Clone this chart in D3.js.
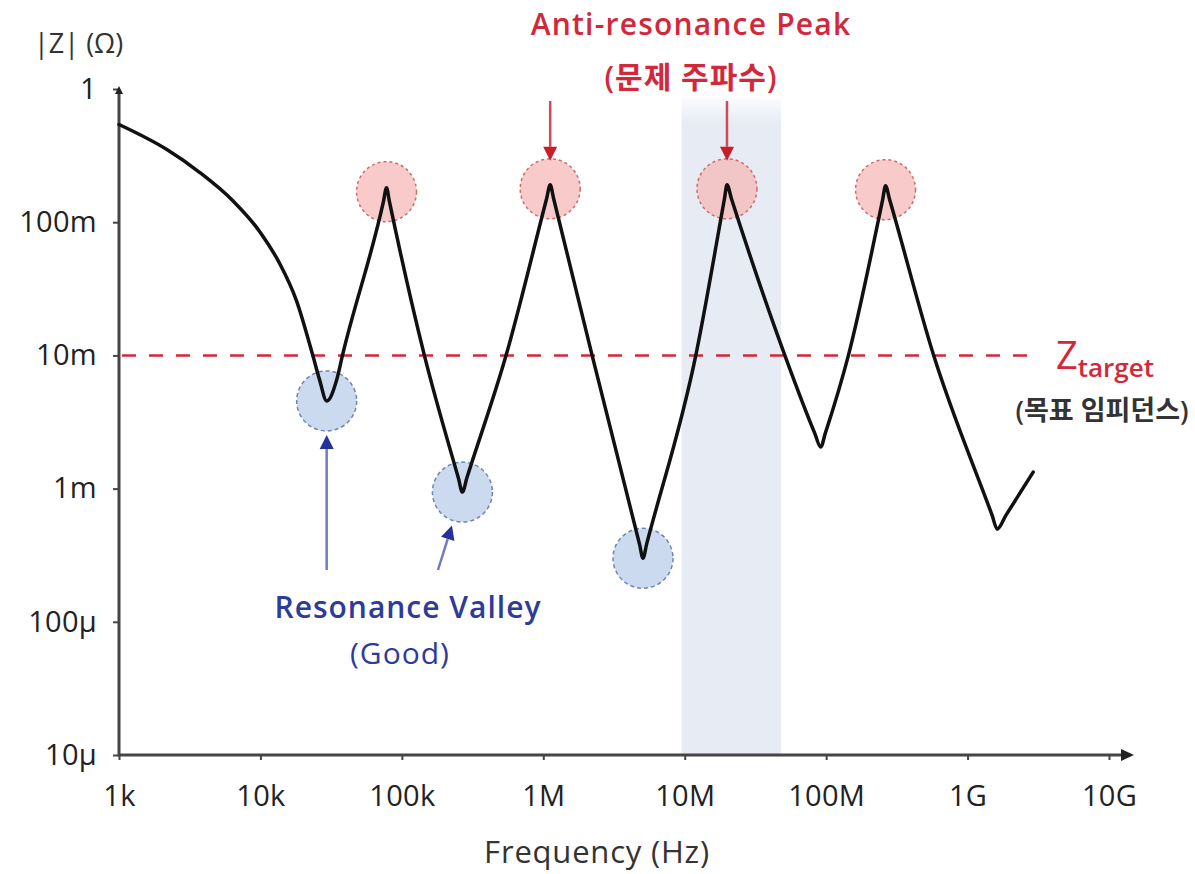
<!DOCTYPE html>
<html>
<head>
<meta charset="utf-8">
<script src="https://cdn.jsdelivr.net/npm/d3@7"></script>
<style>
  html, body { margin: 0; padding: 0; background: #ffffff; }
  svg { display: block; font-family: "Open Sans", "Noto Sans", "Noto Sans CJK KR", sans-serif; }
</style>
</head>
<body>
<svg id="chart" width="1195" height="874"></svg>
<script>
// PDN impedance profile |Z|(f)
const freqHz = [1.0e3, 2.18e3, 3.73e3, 6.38e3, 9.89e3, 13.7e3, 18.0e3, 23.4e3,
  26.2e3, 29.4e3, 34.6e3, 38.1e3,
  74.1e3, 77.9e3, 81.7e3, 144e3,
  251e3, 268e3, 288e3, 547e3,
  1.055e6, 1.119e6, 1.184e6, 2.21e6,
  4.79e6, 5.07e6, 5.38e6, 12.0e6,
  19.1e6, 19.9e6, 21.4e6, 50.9e6,
  83.0e6, 91.5e6, 98.7e6, 144e6,
  251e6, 263e6, 281e6, 574e6,
  1.49e9, 1.62e9, 1.87e9, 2.91e9];
const impedanceOhm = [0.541, 0.351, 0.236, 0.145, 0.0849, 0.0488, 0.0257, 0.0101,
  6.55e-3, 4.55e-3, 6.55e-3, 0.0101,
  0.1426, 0.1817, 0.1426, 0.0101,
  1.20e-3, 0.941e-3, 1.20e-3, 0.0101,
  0.150, 0.191, 0.150, 0.0101,
  0.383e-3, 0.300e-3, 0.383e-3, 0.0101,
  0.150, 0.191, 0.150, 0.0101,
  2.61e-3, 2.05e-3, 2.61e-3, 0.0101,
  0.148, 0.188, 0.148, 0.0101,
  0.632e-3, 0.496e-3, 0.632e-3, 1.33e-3];

// anti-resonance peaks and resonance valleys
const peakHz = [77.9e3, 1.119e6, 19.9e6, 263e6];
const peakOhm = [0.1817, 0.191, 0.191, 0.188];
const valleyHz = [29.4e3, 268e3, 5.07e6];
const valleyOhm = [4.55e-3, 0.941e-3, 0.300e-3];

// target impedance and highlighted band
const targetOhm = 0.01;
const bandHz = [9.5e6, 48e6];
const bandTopOhm = 0.85;

// axis ticks
const xTickValues = [1e3, 1e4, 1e5, 1e6, 1e7, 1e8, 1e9, 1e10];
const xTickLabels = ["1k", "10k", "100k", "1M", "10M", "100M", "1G", "10G"];
const yTickValues = [1e-5, 1e-4, 1e-3, 1e-2, 1e-1, 1];
const yTickLabels = ["10\u00B5", "100\u00B5", "1m", "10m", "100m", "1"];

const svg = d3.select("#chart");
const x = d3.scaleLog().domain([1e3, 1e10]).range([119, 1109]);
const y = d3.scaleLog().domain([1e-5, 1]).range([755, 89]);

const RED = "#d3283a";
const BLUE = "#2d3c98";
const AXIS = "#454545";

// shaded frequency band
const defs = svg.append("defs");
const grad = defs.append("linearGradient").attr("id", "bandFill")
  .attr("x1", 0).attr("y1", 0).attr("x2", 0).attr("y2", 1);
grad.append("stop").attr("offset", "0%").attr("stop-color", "#e6ebf4").attr("stop-opacity", 0.2);
grad.append("stop").attr("offset", "4%").attr("stop-color", "#e6ebf4").attr("stop-opacity", 1);
grad.append("stop").attr("offset", "100%").attr("stop-color", "#e6ebf4").attr("stop-opacity", 1);
svg.append("rect")
  .attr("x", x(bandHz[0])).attr("y", y(bandTopOhm))
  .attr("width", x(bandHz[1]) - x(bandHz[0]))
  .attr("height", y(1e-5) - y(bandTopOhm))
  .attr("fill", "url(#bandFill)");

// axes
const xAxis = d3.axisBottom(x).tickValues(xTickValues)
  .tickFormat((d, i) => xTickLabels[i]).tickSizeInner(5).tickSizeOuter(0).tickPadding(25);
const yAxis = d3.axisLeft(y).tickValues(yTickValues)
  .tickFormat((d, i) => yTickLabels[i]).tickSizeInner(6).tickSizeOuter(0).tickPadding(16);

const gx = svg.append("g").attr("transform", `translate(0,${y(1e-5)})`).call(xAxis);
const gy = svg.append("g").attr("transform", `translate(${x(1e3)},0)`).call(yAxis);
[gx, gy].forEach(g => {
  g.select(".domain").remove();
  g.selectAll(".tick line").attr("stroke", AXIS).attr("stroke-width", 2);
  g.selectAll(".tick text").attr("fill", "#222")
    .style("font-size", "29px").style("letter-spacing", "0.3px")
    .style("font-family", "\"Open Sans\", \"Noto Sans\", sans-serif");
});
gx.selectAll(".tick line").attr("y1", -1);

const x0 = x(1e3), yB = y(1e-5);
svg.append("line").attr("x1", x0).attr("y1", yB).attr("x2", 1124).attr("y2", yB)
  .attr("stroke", AXIS).attr("stroke-width", 3);
svg.append("path").attr("d", `M1134,${yB} L1121,${yB - 6} L1121,${yB + 6} Z`).attr("fill", "#222");
svg.append("line").attr("x1", x0).attr("y1", yB + 1.5).attr("x2", x0).attr("y2", y(1) + 4)
  .attr("stroke", AXIS).attr("stroke-width", 3);
svg.append("path").attr("d", `M${x0},${y(1) - 3} L${x0 - 4},${y(1) + 5} L${x0 + 4},${y(1) + 5} Z`).attr("fill", "#222");

// target impedance line
svg.append("line")
  .attr("x1", x0 + 3).attr("x2", 1030)
  .attr("y1", y(targetOhm)).attr("y2", y(targetOhm))
  .attr("stroke", RED).attr("stroke-width", 2.5).attr("stroke-dasharray", "14 13");

// highlight circles
const R = 30;
svg.append("g").selectAll("circle").data(peakHz).join("circle")
  .attr("cx", d => x(d)).attr("cy", (d, i) => y(peakOhm[i]) + 4).attr("r", R)
  .attr("fill", "#f5b8b8").attr("fill-opacity", 0.75)
  .attr("stroke", "#cf6a6a").attr("stroke-width", 1.5).attr("stroke-dasharray", "3 3");
svg.append("g").selectAll("circle").data(valleyHz).join("circle")
  .attr("cx", d => x(d)).attr("cy", (d, i) => y(valleyOhm[i])).attr("r", R)
  .attr("fill", "#c7d6ee").attr("fill-opacity", 0.9)
  .attr("stroke", "#6f84b3").attr("stroke-width", 1.5).attr("stroke-dasharray", "4 3");

// impedance trace
const trace = freqHz.map((f, i) => ({ f, z: impedanceOhm[i] }));
svg.append("path").datum(trace)
  .attr("fill", "none").attr("stroke", "#111").attr("stroke-width", 3.5)
  .attr("stroke-linejoin", "round").attr("stroke-linecap", "round")
  .attr("d", d3.line().x(d => x(d.f)).y(d => y(d.z)).curve(d3.curveMonotoneX));

// arrow helper: shaft from (x1,y1) to (x2,y2) with a filled head at the end
function arrow(x1, y1, x2, y2, shaftColor, headColor, headLen = 14, headW = 7) {
  const a = Math.atan2(y2 - y1, x2 - x1);
  const bx = x2 - headLen * Math.cos(a), by = y2 - headLen * Math.sin(a);
  svg.append("line").attr("x1", x1).attr("y1", y1).attr("x2", bx).attr("y2", by)
    .attr("stroke", shaftColor).attr("stroke-width", 2.5);
  const px = -Math.sin(a) * headW, py = Math.cos(a) * headW;
  svg.append("path")
    .attr("d", `M${x2},${y2} L${bx + px},${by + py} L${bx - px},${by - py} Z`)
    .attr("fill", headColor);
}

// red arrows onto the 2nd and 3rd anti-resonance peaks
[1, 2].forEach(i => {
  const cx = x(peakHz[i]), top = y(peakOhm[i]) + 4 - R;
  arrow(cx, 101, cx, top + 2, "#d24a55", "#c81e2c");
});

// blue arrows from the valley label
{
  const cx = x(valleyHz[0]), bottom = y(valleyOhm[0]) + R;
  arrow(cx, 570, cx, bottom + 4, "#6f7cc4", "#24339a");
  const vx = x(valleyHz[1]), vy = y(valleyOhm[1]);
  const sx = 438, sy = 570;
  const a = Math.atan2(sy - vy, sx - vx);
  arrow(sx, sy, vx + (R + 5) * Math.cos(a), vy + (R + 5) * Math.sin(a), "#6f7cc4", "#24339a");
}

// labels
function label(txt, xPos, yPos, size, color, anchor = "middle", weight = 400, spacing = 0) {
  return svg.append("text").attr("x", xPos).attr("y", yPos)
    .attr("text-anchor", anchor).attr("fill", color)
    .style("font-size", size + "px").style("font-weight", weight)
    .style("letter-spacing", spacing + "px").text(txt);
}
label("|Z| (\u03A9)", 34, 53, 27, "#333", "start");
label("Frequency (Hz)", 597, 863, 31, "#333", "middle", 400, 0.8);
label("Anti-resonance Peak", 691, 35, 30, RED, "middle", 600, 1.2);
label("(문제 주파수)", 691, 88, 30, RED, "middle", 600, 1);
label("Resonance Valley", 408, 618, 30, BLUE, "middle", 600, 1);
label("(Good)", 400, 664, 30, BLUE, "middle", 500, 1);

const zt = svg.append("text").attr("x", 1056).attr("y", 369).attr("fill", RED);
zt.append("tspan").style("font-size", "38px").text("Z");
zt.append("tspan").attr("dy", 8).style("font-size", "26px").style("font-weight", 600).text("target");
label("(목표 임피던스)", 1102, 420, 27, "#333", "middle", 600);
</script>
</body>
</html>
